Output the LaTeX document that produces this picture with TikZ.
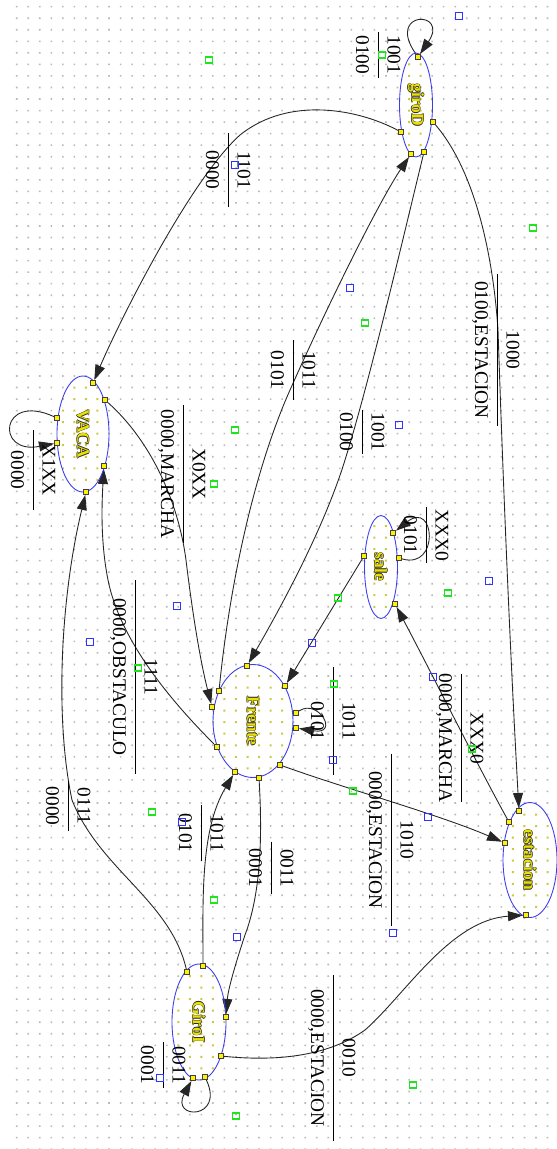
\documentclass[tikz,border=0pt]{standalone}
\usepackage{fontspec}
\setmainfont{Liberation Serif}
\usepackage{graphicx}
\usetikzlibrary{arrows.meta, shapes.geometric}
\pgfdeclarelayer{back}
\pgfdeclarelayer{edges}
\pgfsetlayers{back,edges,main}

\definecolor{gridgray}{RGB}{185,185,185}
\definecolor{dotyellow}{RGB}{205,200,70}
\definecolor{stateblue}{RGB}{60,60,240}
\definecolor{namecol}{RGB}{235,225,0}
\definecolor{mkblue}{RGB}{50,50,255}
\definecolor{mkgreen}{RGB}{30,230,30}

\tikzset{
  state/.style={ellipse, draw=stateblue, line width=0.5pt, inner sep=0pt,
    font=\fontsize{10}{12}\selectfont\bfseries, text=namecol},
  port/.style={rectangle, draw=black!75, fill=yellow, line width=0.3pt,
    minimum size=0.11cm, inner sep=0pt},
  trans/.style={black!85, line width=0.5pt, -{Triangle[length=3mm, width=2mm]}},
  cond/.style={rotate=-90, inner sep=0pt, font=\fontsize{11}{13}\selectfont},
  handleblue/.style={draw=mkblue, line width=0.6pt},
  handlegreen/.style={draw=mkgreen, line width=0.6pt}
}

% entrada sobre la raya, salida debajo
\newcommand{\trlabel}[3][3pt]{{\renewcommand{\arraystretch}{1.35}\setlength{\arrayrulewidth}{0.45pt}%
  \begin{tabular}{@{\hspace{#1}}c@{\hspace{#1}}}#2\\\hline #3\end{tabular}}}
% nombre de estado con borde oscuro
\newcommand{\outlined}[1]{{\color{black!85}%
  \rlap{\kern0.35pt#1}\rlap{\kern-0.35pt#1}\rlap{\raisebox{0.35pt}{#1}}\rlap{\raisebox{-0.35pt}{#1}}}#1}

\begin{document}
\begin{tikzpicture}[x=0.02cm, y=-0.02cm]
  \useasboundingbox (0,0) rectangle (557,1149);

  % rejilla del editor
  \begin{pgfonlayer}{back}
    \fill[white] (0,0) rectangle (557,1149);
    \fill[gridgray] \foreach \i in {0,...,47} {\foreach \j in {0,...,99}
      {({15.9+11.54*\i},{5.9+11.54*\j}) rectangle ++(1.6,1.6)}};
  \end{pgfonlayer}

  % estados
  \foreach \nm/\cx/\cy/\w/\h/\ia/\ib/\ja/\jb in {
      giroD/416/105/33/104/33/36/4/13,
      VACA/83/434/52/116/3/8/32/42,
      sale/381/567/33/103/30/33/44/53,
      Frente/253/721/80/113/17/24/57/67,
      estacion/530/860/54/115/42/47/69/79,
      GiroI/199/1022/54/116/13/18/83/93}{
    \begin{pgfonlayer}{back}
      \begin{scope}
        \clip (\cx,\cy) ellipse [x radius=\w/2, y radius=\h/2];
        \fill[white] (\cx-\w,\cy-\h) rectangle (\cx+\w,\cy+\h);
        \fill[dotyellow] \foreach \i in {\ia,...,\ib} {\foreach \j in {\ja,...,\jb}
          {({15.7+11.54*\i},{5.7+11.54*\j}) rectangle ++(2,2)}};
      \end{scope}
    \end{pgfonlayer}
    \pgfmathsetmacro\mw{\w*0.02}
    \pgfmathsetmacro\mh{\h*0.02}
    \node[state, minimum width=\mw cm, minimum height=\mh cm] (\nm) at (\cx,\cy) {\rotatebox{-90}{\outlined{\nm}}};
  }

  % puertos
  \node[port] (gDt) at (418,57) {};
  \node[port] (gDl) at (401,132) {};
  \node[port] (gDr) at (433,122) {};
  \node[port] (gDb1) at (411,154) {};
  \node[port] (gDb2) at (424,152) {};
  \node[port] (Vl1) at (57,418) {};
  \node[port] (Vl2) at (57,443) {};
  \node[port] (Vtr) at (93,383) {};
  \node[port] (Vr) at (105,400) {};
  \node[port] (Vbr) at (104,466) {};
  \node[port] (Vb) at (86,492) {};
  \node[port] (Sl) at (364,556) {};
  \node[port] (Sr1) at (393,533) {};
  \node[port] (Sr2) at (399,558) {};
  \node[port] (Sbr) at (395,604) {};
  \node[port] (Ft) at (247,666) {};
  \node[port] (Ftr) at (285,686) {};
  \node[port] (Fr1) at (296,713) {};
  \node[port] (Fr2) at (296,728) {};
  \node[port] (Fbr) at (280,765) {};
  \node[port] (Fb) at (259,778) {};
  \node[port] (Fbl) at (235,772) {};
  \node[port] (Fl3) at (217,747) {};
  \node[port] (Fl2) at (212,707) {};
  \node[port] (Fl1) at (219,691) {};
  \node[port] (Et) at (519,811) {};
  \node[port] (El1) at (509,822) {};
  \node[port] (El2) at (505,843) {};
  \node[port] (Eb) at (526,915) {};
  \node[port] (Gt1) at (187,972) {};
  \node[port] (Gt2) at (203,966) {};
  \node[port] (Gr) at (226,1017) {};
  \node[port] (Gbr) at (221,1056) {};
  \node[port] (Gb1) at (205,1077) {};
  \node[port] (Gb2) at (193,1078) {};

  % transiciones
  \begin{pgfonlayer}{edges}
    \draw[trans] (gDt) .. controls (385,10) and (450,10) .. (gDt);
    \draw[trans] (gDl) .. controls (360,110) and (290,95) .. (240,135)
                       .. controls (190,180) and (120,320) .. (Vtr);
    \draw[trans] (gDr) .. controls (470,165) and (492,240) .. (498,330)
                       .. controls (503,480) and (510,650) .. (Et);
    \draw[trans] (gDb2) .. controls (405,230) and (370,380) .. (345,460)
                        .. controls (325,525) and (285,600) .. (Ft);
    \draw[trans] (Fl1) .. controls (228,600) and (250,480) .. (290,390)
                       .. controls (330,300) and (380,200) .. (gDb1);
    \draw[trans] (Vl1) .. controls (0,392) and (-5,455) .. (Vl2);
    \draw[trans] (Vr) .. controls (150,440) and (178,500) .. (186,560)
                      .. controls (192,610) and (200,660) .. (Fl2);
    \draw[trans] (Fl3) .. controls (170,700) and (120,640) .. (108,580)
                       .. controls (100,540) and (102,500) .. (Vbr);
    \draw[trans] (Gt1) .. controls (170,900) and (100,870) .. (72,800)
                       .. controls (55,720) and (60,600) .. (Vb);
    \draw[trans] (Sr2) .. controls (440,570) and (435,500) .. (Sr1);
    \draw[trans] (Sl) -- (Ftr);
    \draw[trans] (El1) .. controls (480,770) and (430,670) .. (Sbr);
    \draw[trans] (Fr1) .. controls (318,698) and (340,735) .. (Fr2);
    \draw[trans] (Fbr) .. controls (350,790) and (440,815) .. (El2);
    \draw[trans] (Fb) .. controls (262,830) and (262,890) .. (245,935)
                      .. controls (235,965) and (228,990) .. (Gr);
    \draw[trans] (Gt2) .. controls (203,900) and (200,830) .. (Fbl);
    \draw[trans] (Gb1) .. controls (225,1120) and (170,1120) .. (Gb2);
    \draw[trans] (Gbr) .. controls (280,1062) and (330,1055) .. (365,1030)
                       .. controls (405,995) and (450,920) .. (Eb);
  \end{pgfonlayer}

  % etiquetas
  \node[cond] (lgDloop) at (378,55) {\trlabel[2pt]{1001}{0100}};
  \node[cond] (lgDV) at (228,170) {\trlabel[10pt]{1101}{0000}};
  \node[cond] (lVloop) at (33,470) {\trlabel[8pt]{X1XX}{0000}};
  \node[cond] (lVF) at (183,474) {\trlabel[3pt]{X0XX}{0000,MARCHA}};
  \node[cond] (lFgD) at (293,370) {\trlabel[6pt]{1011}{0101}};
  \node[cond] (lgDF) at (362,432) {\trlabel[1.5pt]{1001}{0100}};
  \node[cond] (lgDE) at (497,350) {\trlabel[4pt]{1000}{0100,ESTACION}};
  \node[cond] (lSloop) at (426,535) {\trlabel[1.5pt]{XXX0}{0101}};
  \node[cond] (lES) at (461,738) {\trlabel[0pt]{XXX0}{0000,MARCHA}};
  \node[cond] (lFloop) at (333,721) {\trlabel[20pt]{1011}{0101}};
  \node[cond] (lFE) at (391,840) {\trlabel[10pt]{1010}{0000,ESTACION}};
  \node[cond] (lFV) at (135,677) {\trlabel[10pt]{1111}{0000,OBSTACULO}};
  \node[cond] (lGV) at (68,806) {\trlabel[3pt]{0111}{0000}};
  \node[cond] (lFG) at (271,868) {\trlabel[4pt]{0011}{0001}};
  \node[cond] (lGF) at (201,833) {\trlabel[5pt]{1011}{0101}};
  \node[cond] (lGloop) at (163,1065) {\trlabel[2pt]{0011}{0001}};
  \node[cond] (lGE) at (333,1058) {\trlabel[8pt]{0010}{0000,ESTACION}};

  % tiradores del editor
  \foreach \x/\y in {459/16, 235/165, 350/288, 399/425, 177/606, 90/642, 489/581,
      312/643, 333/760, 182/822, 428/817, 393/933, 433/677, 237/937, 160/1078}
    \draw[handleblue] (\x-3.5,\y-3.5) rectangle ++(7,7);
  \foreach \x/\y in {209/60, 382/55, 533/228, 365/323, 235/430, 214/484, 138/668,
      448/593, 338/598, 334/684, 152/812, 353/791, 472/749, 214/900, 236/1116, 413/1085}
    \draw[handlegreen] (\x-3.5,\y-3) rectangle ++(7,6);
\end{tikzpicture}
\end{document}
